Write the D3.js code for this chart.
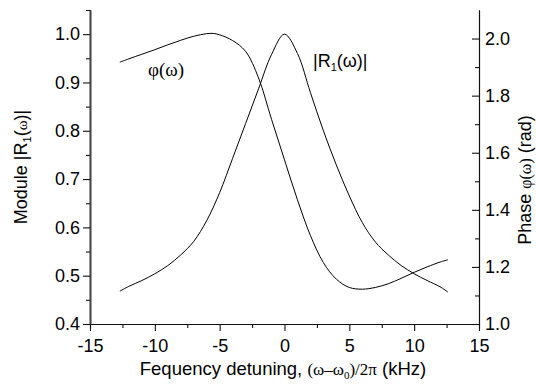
<!DOCTYPE html>
<html>
<head>
<meta charset="utf-8">
<script src="https://cdn.jsdelivr.net/npm/d3@7"></script>
<style>
  body { margin: 0; background: #fff; }
  svg { font-family: "Liberation Sans", Arial, Helvetica, sans-serif; }
  .serif { font-family: "Liberation Serif", "Times New Roman", serif; }
</style>
</head>
<body>
<div id="chart"></div>
<script>
// Module |R1(w)|
const moduleX = [-12.7, -12, -11, -10, -9, -8, -7, -6, -5, -4, -3, -2, -1, 0, 1, 2, 3, 4, 5, 6, 7, 8, 9, 10, 11, 12, 12.6];
const moduleY = [0.468, 0.478, 0.490, 0.504, 0.521, 0.543, 0.571, 0.614, 0.672, 0.743, 0.815, 0.887, 0.958, 1.0, 0.960, 0.879, 0.800, 0.729, 0.665, 0.610, 0.570, 0.543, 0.521, 0.504, 0.490, 0.477, 0.466];

// Phase phi(w) in rad
const phaseX = [-12.7, -12, -11, -10, -9, -8, -7, -6, -5.5, -5, -4, -3, -2, -1, 0, 1, 2, 3, 4, 5, 6, 7, 8, 9, 10, 11, 12, 12.6];
const phaseY = [1.917, 1.929, 1.945, 1.961, 1.978, 1.994, 2.008, 2.017, 2.018, 2.013, 1.993, 1.955, 1.862, 1.717, 1.575, 1.435, 1.310, 1.215, 1.157, 1.128, 1.122, 1.128, 1.141, 1.160, 1.181, 1.200, 1.217, 1.225];

// Ticks
const xTicks = [-15, -10, -5, 0, 5, 10, 15];
const xMinor = [-12.5, -7.5, -2.5, 2.5, 7.5, 12.5];
const leftTicks = [0.4, 0.5, 0.6, 0.7, 0.8, 0.9, 1.0];
const leftMinor = [0.45, 0.55, 0.65, 0.75, 0.85, 0.95];
const rightTicks = [1.0, 1.2, 1.4, 1.6, 1.8, 2.0];
const rightMinor = [1.1, 1.3, 1.5, 1.7, 1.9];

const width = 536;
const height = 392;
const plotLeft = 90, plotRight = 479, plotTop = 10, plotBottom = 324;

const svg = d3.select('#chart')
    .append('svg')
    .attr('width', width)
    .attr('height', height);

const x = d3.scaleLinear().domain([-15, 15]).range([plotLeft, plotRight]);
const yL = d3.scaleLinear().domain([0.4, 1.05]).range([plotBottom, plotTop]);
const yR = d3.scaleLinear().domain([1.0, 2.1]).range([plotBottom, plotTop]);

// minor ticks first (no labels)
svg.append('g')
    .attr('transform', `translate(0,${plotBottom})`)
    .call(d3.axisBottom(x).tickValues(xMinor).tickSize(4).tickFormat(''));
svg.append('g')
    .attr('transform', `translate(${plotLeft},0)`)
    .call(d3.axisLeft(yL).tickValues(leftMinor).tickSize(4).tickFormat(''));
svg.append('g')
    .attr('transform', `translate(${plotRight},0)`)
    .call(d3.axisRight(yR).tickValues(rightMinor).tickSizeInner(-4).tickSizeOuter(0).tickFormat(''));

// major axes
const xAxis = svg.append('g')
    .attr('transform', `translate(0,${plotBottom})`)
    .call(d3.axisBottom(x).tickValues(xTicks).tickSizeInner(7).tickSizeOuter(0)
        .tickPadding(8).tickFormat(d => String(d)));

const lAxis = svg.append('g')
    .attr('transform', `translate(${plotLeft},0)`)
    .call(d3.axisLeft(yL).tickValues(leftTicks).tickSizeInner(7).tickSizeOuter(0)
        .tickPadding(3).tickFormat(d3.format('.1f')));

const rAxis = svg.append('g')
    .attr('transform', `translate(${plotRight},0)`)
    .call(d3.axisRight(yR).tickValues(rightTicks).tickSizeInner(-7).tickSizeOuter(0)
        .tickPadding(6).tickFormat(d3.format('.1f')));

svg.selectAll('.domain, .tick line')
    .attr('stroke', '#111')
    .attr('stroke-width', 1.1);
lAxis.select('.domain').attr('stroke', '#444').attr('stroke-width', 2);

svg.selectAll('.tick text')
    .attr('fill', '#000')
    .style('font-size', '18px')
    .style('font-family', '"Liberation Sans", Arial, sans-serif');

// curves
const moduleLine = d3.line()
    .x((d, i) => x(moduleX[i]))
    .y(d => yL(d))
    .curve(d3.curveCatmullRom.alpha(0.5));

const phaseLine = d3.line()
    .x((d, i) => x(phaseX[i]))
    .y(d => yR(d))
    .curve(d3.curveCatmullRom.alpha(0.5));

svg.append('path')
    .attr('d', moduleLine(moduleY))
    .attr('fill', 'none')
    .attr('stroke', '#000')
    .attr('stroke-width', 1);

svg.append('path')
    .attr('d', phaseLine(phaseY))
    .attr('fill', 'none')
    .attr('stroke', '#000')
    .attr('stroke-width', 1);

// curve labels
const phiLbl = svg.append('text')
    .attr('x', 148)
    .attr('y', 76)
    .style('font-size', '19px');
phiLbl.append('tspan').attr('class', 'serif').text('φ(ω)');

const rLbl = svg.append('text')
    .attr('x', 313)
    .attr('y', 67)
    .style('font-size', '18px');
rLbl.append('tspan').text('|R');
rLbl.append('tspan').attr('dy', 4).style('font-size', '11px').text('1');
rLbl.append('tspan').attr('dy', -4).text('(ω)|');

// axis titles
const xt = svg.append('text')
    .attr('x', 283)
    .attr('y', 375)
    .attr('text-anchor', 'middle')
    .style('font-size', '18.5px');
xt.append('tspan').text('Fequency detuning, ');
xt.append('tspan').attr('class', 'serif').style('font-size', '17px').text('(ω–ω');
xt.append('tspan').attr('class', 'serif').attr('dy', 4).style('font-size', '11px').text('0');
xt.append('tspan').attr('class', 'serif').attr('dy', -4).style('font-size', '17px').text(')/2π');
xt.append('tspan').text(' (kHz)');

const yt = svg.append('text')
    .attr('transform', `translate(27,${(plotTop + plotBottom) / 2}) rotate(-90)`)
    .attr('text-anchor', 'middle')
    .style('font-size', '18px');
yt.append('tspan').text('Module |R');
yt.append('tspan').attr('dy', 4).style('font-size', '11px').text('1');
yt.append('tspan').attr('dy', -4).text('(');
yt.append('tspan').attr('class', 'serif').style('font-size', '15px').text('ω');
yt.append('tspan').text(')|');

const rt = svg.append('text')
    .attr('transform', `translate(531,180) rotate(-90)`)
    .attr('text-anchor', 'middle')
    .style('font-size', '18px');
rt.append('tspan').text('Phase ');
rt.append('tspan').attr('class', 'serif').style('font-size', '16px').text('φ(ω)');
rt.append('tspan').text(' (rad)');
</script>
</body>
</html>
